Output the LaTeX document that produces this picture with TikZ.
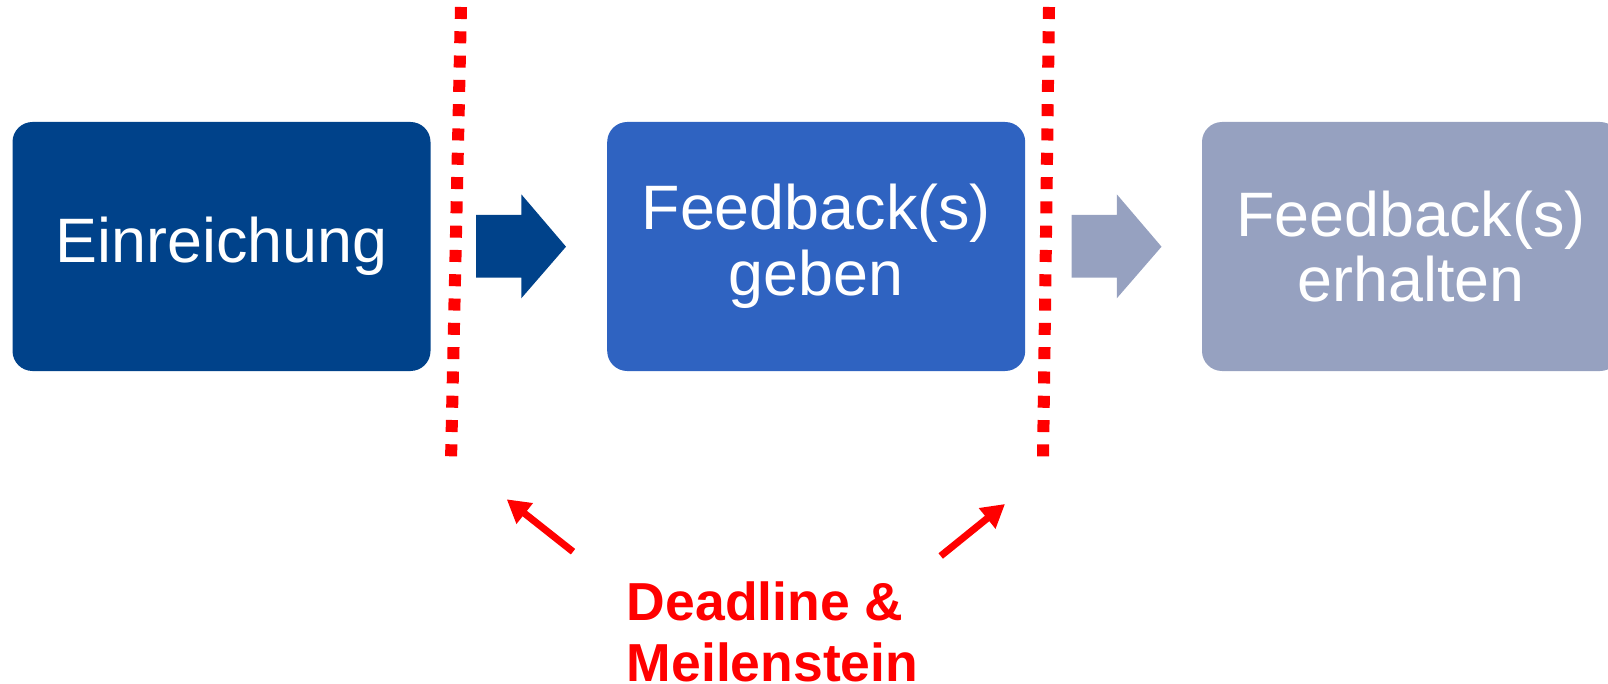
\documentclass[tikz,border=0pt]{standalone}
\usepackage{fontspec}
\setmainfont{Liberation Sans}
\usetikzlibrary{arrows.meta}
\definecolor{boxdark}{RGB}{0,66,138}
\definecolor{boxmid}{RGB}{47,99,193}
\definecolor{boxlight}{RGB}{150,161,192}
\definecolor{pured}{RGB}{255,0,0}
\tikzset{
  stepbox/.style={rounded corners=20pt, minimum width=418pt, minimum height=249pt,
    inner sep=0pt, text=white, align=center, font=\fontsize{62.8}{65.7}\selectfont},
  milestone/.style={pured, line width=12pt, dash pattern=on 12pt off 12.3pt},
  pointer/.style={pured, line width=7pt, -{Triangle[length=23pt,width=25pt]}},
}
\begin{document}
\begin{tikzpicture}[x=1pt,y=-1pt]
\useasboundingbox (0,0) rectangle (1608,684);
\clip (0,0) rectangle (1608,684);
% boxes
\node[stepbox, fill=boxdark] (b1) at (221.5,246.5) {Einreichung};
\node[stepbox, fill=boxmid] (b2) at (816.2,246.5) {\raisebox{-3pt}{\parbox{400pt}{\centering Feedback(s)\\geben}}};
\node[stepbox, fill=boxlight] (b3) at (1411,246.5) {\raisebox{-3pt}{\parbox{400pt}{\centering Feedback(s)\\erhalten}}};
% block arrows
\fill[boxdark] (476,215) -- (521.3,215) -- (521.3,194.3) -- (566,246.7) -- (521.3,298.3) -- (521.3,277.7) -- (476,277.7) -- cycle;
\fill[boxlight] (1071.5,215) -- (1116.8,215) -- (1116.8,194.3) -- (1161.5,246.7) -- (1116.8,298.3) -- (1116.8,277.7) -- (1071.5,277.7) -- cycle;
% milestone lines
\coordinate (m1t) at (461,7);
\coordinate (m1b) at (451,461);
\coordinate (m2t) at (1049,7);
\coordinate (m2b) at (1043,461);
\draw[milestone] (m1t) -- (m1b);
\draw[milestone] (m2t) -- (m2b);
% label
\node[anchor=base west, align=left, inner sep=0pt, text=pured,
  font=\fontsize{53.5}{61.7}\selectfont\bfseries] (lab) at (626.7,681.7) {Deadline \&\\Meilenstein};
\coordinate (p1s) at (573,551.7);
\coordinate (p1e) at (506.7,499.3);
\coordinate (p2s) at (940.7,556);
\coordinate (p2e) at (1005,504);
\draw[pointer] (p1s) -- (p1e);
\draw[pointer] (p2s) -- (p2e);
\end{tikzpicture}
\end{document}
